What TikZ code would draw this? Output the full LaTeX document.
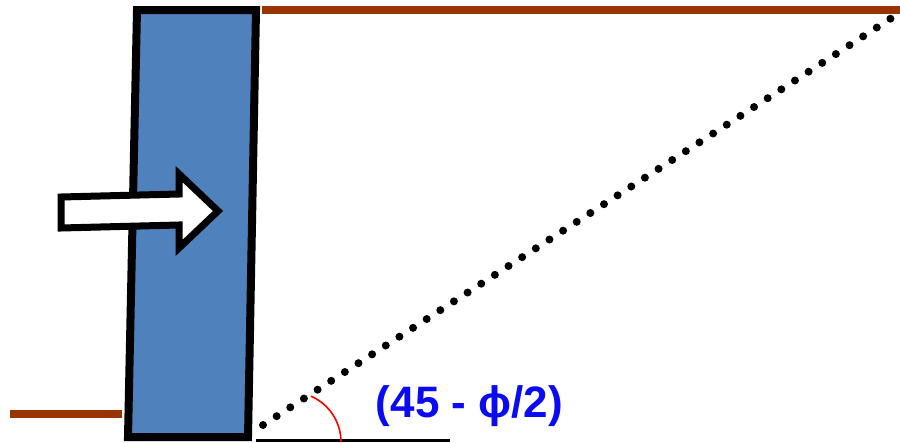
\documentclass[tikz,border=0pt]{standalone}
\usepackage{fontspec}
\setmainfont{Liberation Sans}
\definecolor{wallblue}{RGB}{79,129,189}
\definecolor{soilbrown}{RGB}{153,51,0}
\definecolor{lblblue}{RGB}{10,10,245}
\begin{document}
\begin{tikzpicture}[x=1pt,y=-1pt,
  wallstyle/.style={draw=black,line width=8pt,fill=wallblue,line join=miter},
  ground/.style={draw=soilbrown,line width=8pt},
  thrust/.style={draw=black,line width=7pt,fill=white,line join=miter},
  failplane/.style={draw=black,line width=8pt,line cap=round,dash pattern=on 0pt off 16.25pt},
  anglearc/.style={draw=red,line width=1.6pt},
  lbl/.style={font=\fontsize{44}{48}\selectfont\bfseries,text=lblblue,inner sep=0pt}]
\useasboundingbox (0,0) rectangle (900,442);
% ground lines
\coordinate (gtl) at (262,10);
\coordinate (gtr) at (900,10);
\coordinate (gbl) at (10,414);
\coordinate (gbr) at (122,414);
\draw[ground] (gtl) -- (gtr);
\draw[ground] (gbl) -- (gbr);
% wall
\coordinate (w1) at (137,10);
\coordinate (w2) at (256,10);
\coordinate (w3) at (248,437);
\coordinate (w4) at (128,437);
\draw[wallstyle] (w1) -- (w2) -- (w3) -- (w4) -- cycle;
% thrust arrow
\draw[thrust] (61,197) -- (179,194) -- (179,174) -- (218,211) -- (179,248) -- (179,225) -- (61,228) -- cycle;
% base line
\coordinate (b1) at (256,440.5);
\coordinate (b2) at (450,440.5);
\draw[black,line width=3pt] (b1) -- (b2);
% failure plane
\coordinate (f1) at (263,425);
\coordinate (f2) at (891.5,18);
\draw[failplane] (f1) -- (f2);
% angle arc
\coordinate (ac) at (291,442);
\draw[anglearc] ([shift={(-66.5:50)}]ac) arc[start angle=-66.5, end angle=0, radius=50];
% label
\node[lbl,anchor=base] (angle) at (469.5,417) {(45 - ϕ/2)};
\end{tikzpicture}
\end{document}
